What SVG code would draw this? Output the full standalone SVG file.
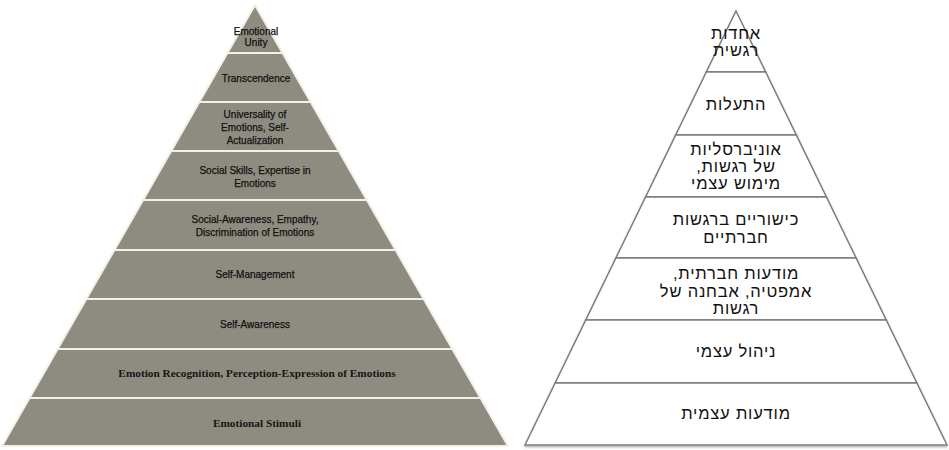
<svg xmlns="http://www.w3.org/2000/svg" width="949" height="450" viewBox="0 0 949 450">
  <defs>
    <style>
      .lb { fill: #8e8c81; stroke: #f3f0e5; stroke-width: 2; stroke-linejoin: round; }
      .lt { font-family: "Liberation Sans", Arial, sans-serif; font-size: 10px; fill: #111111; stroke: #111111; stroke-width: 0.25; text-anchor: middle; }
      .ls { font-family: "Liberation Serif", "Times New Roman", serif; font-size: 11.3px; font-weight: bold; fill: #151515; text-anchor: middle; }
      .rb { fill: #ffffff; stroke: #7c7c7c; stroke-width: 1.5; stroke-linejoin: miter; }
      .rt { font-family: "Liberation Sans", "DejaVu Sans", Arial, sans-serif; font-size: 16.5px; letter-spacing: 0.8px; fill: #111111; text-anchor: middle; direction: rtl; }
    </style>
    <filter id="sh" x="-5%" y="-5%" width="110%" height="115%">
      <feDropShadow dx="0" dy="1.5" stdDeviation="1.2" flood-color="#000000" flood-opacity="0.3"/>
    </filter>
  </defs>
  <rect x="0" y="0" width="949" height="450" fill="#ffffff"/>

  <!-- Left pyramid (English) -->
  <g id="left-pyramid">
    <g id="l1">
      <polygon class="lb" points="255,5 282.54,53 227.46,53"/>
      <text class="lt" x="256" y="35">Emotional</text>
      <text class="lt" x="256" y="46">Unity</text>
    </g>
    <g id="l2">
      <polygon class="lb" points="227.46,53 282.54,53 310.65,102 199.35,102"/>
      <text class="lt" x="256" y="82">Transcendence</text>
    </g>
    <g id="l3">
      <polygon class="lb" points="199.35,102 310.65,102 338.76,151 171.24,151"/>
      <text class="lt" x="255" y="118">Universality of</text>
      <text class="lt" x="255" y="131">Emotions, Self-</text>
      <text class="lt" x="255" y="144">Actualization</text>
    </g>
    <g id="l4">
      <polygon class="lb" points="171.24,151 338.76,151 366.87,200 143.13,200"/>
      <text class="lt" x="255" y="174">Social Skills, Expertise in</text>
      <text class="lt" x="255" y="187">Emotions</text>
    </g>
    <g id="l5">
      <polygon class="lb" points="143.13,200 366.87,200 395.56,250 114.44,250"/>
      <text class="lt" x="255" y="223">Social-Awareness, Empathy,</text>
      <text class="lt" x="255" y="236">Discrimination of Emotions</text>
    </g>
    <g id="l6">
      <polygon class="lb" points="114.44,250 395.56,250 423.67,299 86.33,299"/>
      <text class="lt" x="255" y="278">Self-Management</text>
    </g>
    <g id="l7">
      <polygon class="lb" points="86.33,299 423.67,299 452.35,349 57.65,349"/>
      <text class="lt" x="255" y="328">Self-Awareness</text>
    </g>
    <g id="l8">
      <polygon class="lb" points="57.65,349 452.35,349 480.46,398 29.54,398"/>
      <text class="ls" x="257" y="377">Emotion Recognition, Perception-Expression of Emotions</text>
    </g>
    <g id="l9">
      <polygon class="lb" points="29.54,398 480.46,398 508,446 2,446"/>
      <text class="ls" x="257" y="427">Emotional Stimuli</text>
    </g>
  </g>

  <!-- Right pyramid (Hebrew) -->
  <g id="right-pyramid">
    <g id="r1">
      <polygon class="rb" filter="url(#sh)" points="736,11 765.66,72 706.34,72"/>
      <text class="rt" x="736" y="39">אחדות</text>
      <text class="rt" x="736" y="56">רגשית</text>
    </g>
    <g id="r2">
      <polygon class="rb" filter="url(#sh)" points="706.34,72 765.66,72 796.29,135 675.71,135"/>
      <text class="rt" x="736" y="110">התעלות</text>
    </g>
    <g id="r3">
      <polygon class="rb" filter="url(#sh)" points="675.71,135 796.29,135 826.43,197 645.57,197"/>
      <text class="rt" x="736" y="155">אוניברסליות</text>
      <text class="rt" x="736" y="172">של רגשות,</text>
      <text class="rt" x="736" y="189">מימוש עצמי</text>
    </g>
    <g id="r4">
      <polygon class="rb" filter="url(#sh)" points="645.57,197 826.43,197 856.09,258 615.91,258"/>
      <text class="rt" x="736" y="225">כישוריים ברגשות</text>
      <text class="rt" x="736" y="243">חברתיים</text>
    </g>
    <g id="r5">
      <polygon class="rb" filter="url(#sh)" points="615.91,258 856.09,258 886.24,320 585.76,320"/>
      <text class="rt" x="736" y="279">מודעות חברתית,</text>
      <text class="rt" x="736" y="297">אמפטיה, אבחנה של</text>
      <text class="rt" x="736" y="314">רגשות</text>
    </g>
    <g id="r6">
      <polygon class="rb" filter="url(#sh)" points="585.76,320 886.24,320 916.87,383 555.13,383"/>
      <text class="rt" x="736" y="357">ניהול עצמי</text>
    </g>
    <g id="r7">
      <polygon class="rb" filter="url(#sh)" points="555.13,383 916.87,383 947,445 525,445"/>
      <text class="rt" x="736" y="419">מודעות עצמית</text>
    </g>
  </g>
  <g id="connectors"></g>
</svg>
